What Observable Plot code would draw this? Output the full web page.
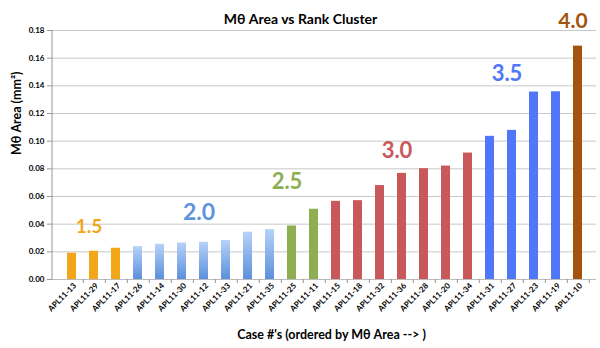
<!DOCTYPE html>
<html>
<head>
<meta charset="utf-8">
<script src="https://cdn.jsdelivr.net/npm/d3@7"></script>
<script src="https://cdn.jsdelivr.net/npm/@observablehq/plot@0.6"></script>
<style>
  html, body { margin: 0; padding: 0; background: #fff; }
  #chart svg { display: block; }
</style>
</head>
<body>
<div id="chart"></div>
<script>
// ---- data ----
const cases = ["APL11-13","APL11-29","APL11-17","APL11-26","APL11-14","APL11-30","APL11-12","APL11-33",
  "APL11-21","APL11-35","APL11-25","APL11-11","APL11-15","APL11-18","APL11-32","APL11-36",
  "APL11-28","APL11-20","APL11-34","APL11-31","APL11-27","APL11-23","APL11-19","APL11-10"];
const areas = [0.0190,0.0204,0.0226,0.0238,0.0255,0.0264,0.0269,0.0282,
  0.0342,0.0361,0.0387,0.0508,0.0565,0.0570,0.0679,0.0767,
  0.0801,0.0820,0.0914,0.1035,0.1078,0.1355,0.1357,0.1687];
const clusters = ["1.5","1.5","1.5","2.0","2.0","2.0","2.0","2.0",
  "2.0","2.0","2.5","2.5","3.0","3.0","3.0","3.0",
  "3.0","3.0","3.0","3.5","3.5","3.5","3.5","4.0"];
const clusterNames = ["1.5","2.0","2.5","3.0","3.5","4.0"];
const clusterFills = ["#f2a71b","url(#lightBlueGrad)","#8eae52","#c9585a","#4f77f7","#a4530e"];
const clusterTextColors = ["#f2a71b","#5f93dc","#8eae52","#c9585a","#4f77f7","#a4530e"];
const labelCase = ["APL11-29","APL11-12","APL11-25","APL11-36","APL11-27","APL11-10"];
const labelValue = [0.0378,0.0482,0.0699,0.0927,0.148,0.186];
const labelShift = [2,2,12,0,8,-3];
const labelSize = [19,23,22,22,22,21];
const yTicks = [0,0.02,0.04,0.06,0.08,0.10,0.12,0.14,0.16,0.18];

const rows = cases.map((c, i) => ({
  case: c, area: areas[i],
  fill: clusterFills[clusterNames.indexOf(clusters[i])]
}));
const labels = clusterNames.map((n, i) => ({
  name: n, case: labelCase[i], value: labelValue[i],
  color: clusterTextColors[i], dx: labelShift[i], size: labelSize[i]
}));

const W = 600, H = 348, mL = 52, mR = 4, mT = 30, mB = 69;
const step = (W - mL - mR) / cases.length;
const font = "Lato, 'Open Sans', sans-serif";

const defs = () => {
  const s = d3.create("svg:defs");
  const g = s.append("linearGradient").attr("id", "lightBlueGrad")
    .attr("x1", 0).attr("y1", 0).attr("x2", 0).attr("y2", 1);
  g.append("stop").attr("offset", "0%").attr("stop-color", "#b7d2f8");
  g.append("stop").attr("offset", "100%").attr("stop-color", "#5b90dc");
  return s.node();
};

// left axis line, drawn along the y scale's range
const leftLine = (index, scales, values, dims) => {
  const [y0, y1] = scales.y.range ? [scales.y(0), scales.y(0.18)] : [dims.height - dims.marginBottom, dims.marginTop];
  return d3.create("svg:line")
    .attr("x1", dims.marginLeft).attr("x2", dims.marginLeft)
    .attr("y1", y0).attr("y2", y1)
    .attr("stroke", "#999").node();
};

const chart = Plot.plot({
  width: W, height: H,
  marginLeft: mL, marginRight: mR, marginTop: mT, marginBottom: mB,
  style: { fontFamily: font, background: "#fff", overflow: "visible" },
  x: { domain: cases, padding: 0.6, paddingOuter: 0.3, label: null, align: 0.5 },
  y: { domain: [0, 0.18], label: null },
  color: { type: "identity" },
  marks: [
    defs,
    Plot.gridY(yTicks, { stroke: "#c8c8c8", strokeOpacity: 1 }),
    Plot.axisY(yTicks, { tickFormat: d3.format(".2f"), tickSize: 5, tickPadding: 3,
      fontSize: 8, fontWeight: "bold", stroke: "#999", label: null, color: "#000" }),
    leftLine,
    Plot.barY(rows, { x: "case", y: "area", fill: "fill" }),
    Plot.ruleY([0], { stroke: "#bbb" }),
    Plot.axisX({ tickSize: 4, tickFormat: () => "", dx: step / 2, stroke: "#999" }),
    Plot.axisX({ tickSize: 0, tickRotate: -45, tickPadding: 5, fontSize: 8,
      fontWeight: "bold", label: null, dx: 3 }),
    Plot.text(labels, { x: "case", y: "value", text: "name", fill: "color",
      dx: "dx", fontSize: "size", fontWeight: "bold" }),
    Plot.text(["Mθ Area vs Rank Cluster"], { frameAnchor: "top", dy: -16, dx: -24,
      fontSize: 14, fontWeight: "bold", fill: "#000" }),
    Plot.text(["Case #'s (ordered by Mθ Area --> )"], { frameAnchor: "bottom", dy: 59, dx: 7,
      fontSize: 12.5, fontWeight: "bold", fill: "#000" }),
    Plot.text(["Mθ Area (mm²)"], { frameAnchor: "left", rotate: -90, dx: -36,
      fontSize: 12.5, fontWeight: "bold", fill: "#000" })
  ]
});
document.getElementById("chart").appendChild(chart);
</script>
</body>
</html>
